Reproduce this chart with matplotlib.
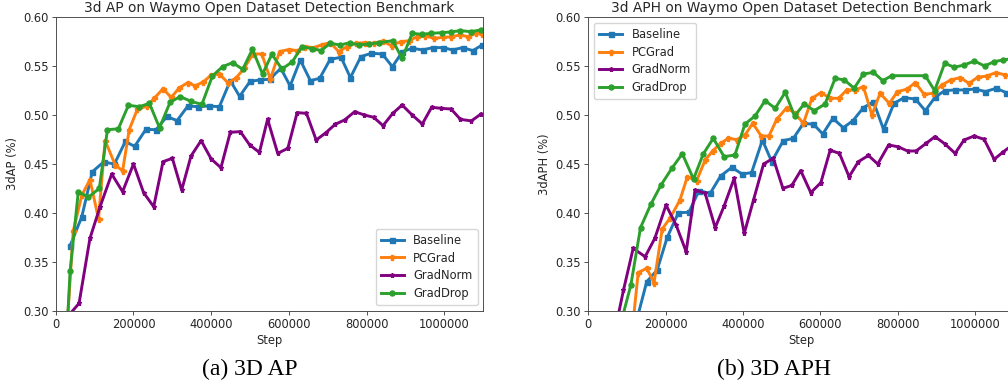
import matplotlib
matplotlib.use("Agg")
import matplotlib.pyplot as plt
from matplotlib.ticker import FormatStrFormatter

# ---------------- 3d AP (left) ----------------
ap_baseline_steps = [37000, 67000, 94000, 123000, 151000, 179000, 203000, 232000, 258000, 286000,
                     312000, 340000, 367000, 393000, 421000, 449000, 473000, 500000, 526000, 550000,
                     579000, 603000, 629000, 655000, 679000, 706000, 734000, 758000, 785000, 812000,
                     840000, 866000, 892000, 917000, 944000, 970000, 996000, 1021000, 1047000, 1073000,
                     1097000]
ap_baseline = [0.3665, 0.396, 0.442, 0.452, 0.450, 0.473, 0.468, 0.4855, 0.485, 0.4987,
               0.4943, 0.5093, 0.5086, 0.5093, 0.5086, 0.5352, 0.5192, 0.5345, 0.536, 0.5366,
               0.5478, 0.5298, 0.5564, 0.5352, 0.5376, 0.557, 0.5591, 0.5383, 0.5598, 0.5632,
               0.5625, 0.5495, 0.5649, 0.5683, 0.5666, 0.569, 0.569, 0.5666, 0.569, 0.5659,
               0.5717]

ap_pcgrad_steps = [31000, 45000, 67000, 88000, 110000, 127000, 153000, 172000, 189000, 210000,
                   234000, 253000, 276000, 297000, 318000, 339000, 359000, 380000, 400000, 421000,
                   443000, 464000, 485000, 507000, 530000, 552000, 576000, 599000, 621000, 642000,
                   664000, 685000, 706000, 728000, 749000, 773000, 795000, 818000, 841000, 864000,
                   887000, 908000, 930000, 951000, 973000, 996000, 1018000, 1040000, 1060000, 1082000,
                   1097000]
ap_pcgrad = [0.295, 0.3815, 0.418, 0.434, 0.394, 0.474, 0.449, 0.443, 0.485, 0.506,
             0.509, 0.517, 0.527, 0.518, 0.528, 0.533, 0.530, 0.534, 0.541, 0.542,
             0.533, 0.538, 0.548, 0.5625, 0.5625, 0.537, 0.565, 0.567, 0.566, 0.570,
             0.569, 0.572, 0.5741, 0.5649, 0.570, 0.5734, 0.5741, 0.5734, 0.5755, 0.571,
             0.5751, 0.576, 0.5802, 0.5809, 0.5785, 0.5795, 0.5802, 0.5819, 0.5802, 0.5836,
             0.5826]

ap_gradnorm_steps = [35000, 60000, 88000, 114000, 144000, 172000, 200000, 226000, 252000, 276000,
                     300000, 324000, 348000, 374000, 400000, 425000, 449000, 475000, 499000, 524000,
                     545000, 571000, 597000, 621000, 645000, 670000, 695000, 719000, 743000, 769000,
                     794000, 818000, 842000, 867000, 891000, 917000, 943000, 967000, 992000, 1017000,
                     1041000, 1069000, 1094000]
ap_gradnorm = [0.296, 0.3075, 0.374, 0.4063, 0.4397, 0.4217, 0.450, 0.4207, 0.4063, 0.4524,
               0.4558, 0.4234, 0.4582, 0.4739, 0.4551, 0.4462, 0.4824, 0.4831, 0.4694, 0.4619,
               0.4957, 0.4609, 0.466, 0.5025, 0.5018, 0.4745, 0.482, 0.4906, 0.495, 0.5035,
               0.5001, 0.4977, 0.4892, 0.5018, 0.5103, 0.5001, 0.4909, 0.508, 0.5069, 0.5062,
               0.4957, 0.494, 0.5011]

ap_graddrop_steps = [31000, 37000, 58000, 84000, 112000, 133000, 161000, 187000, 215000, 241000,
                     267000, 294000, 320000, 348000, 376000, 403000, 429000, 455000, 481000, 506000,
                     532000, 556000, 582000, 609000, 633000, 659000, 683000, 706000, 732000, 756000,
                     781000, 805000, 831000, 867000, 891000, 917000, 941000, 966000, 994000, 1017000,
                     1041000, 1067000, 1093000]
ap_graddrop = [0.295, 0.3405, 0.4217, 0.416, 0.425, 0.485, 0.486, 0.510, 0.5086, 0.512,
               0.487, 0.513, 0.519, 0.514, 0.511, 0.540, 0.5495, 0.5536, 0.5468, 0.5673,
               0.542, 0.5622, 0.547, 0.5547, 0.570, 0.568, 0.566, 0.5734, 0.5717, 0.574,
               0.5717, 0.5727, 0.574, 0.5761, 0.558, 0.5836, 0.5826, 0.5836, 0.5843, 0.585,
               0.5864, 0.5853, 0.587]

# ---------------- 3d APH (right) ----------------
aph_baseline_steps = [125000, 151000, 178000, 204000, 233000, 260000, 286000, 315000, 342000, 371000,
                      397000, 422000, 450000, 474000, 504000, 530000, 556000, 582000, 606000, 632000,
                      659000, 684000, 711000, 737000, 763000, 790000, 816000, 845000, 871000, 896000,
                      921000, 948000, 974000, 1000000, 1026000, 1054000, 1080000]
aph_baseline = [0.290, 0.3296, 0.3416, 0.375, 0.4002, 0.4006, 0.4227, 0.420, 0.4377, 0.4466,
                0.4398, 0.4411, 0.4745, 0.4524, 0.4739, 0.4762, 0.4916, 0.4906, 0.4807, 0.4967,
                0.4871, 0.4943, 0.5076, 0.5137, 0.4854, 0.512, 0.5178, 0.5165, 0.5045, 0.5182,
                0.525, 0.5257, 0.5257, 0.5267, 0.524, 0.5274, 0.523]

aph_pcgrad_steps = [115000, 129000, 151000, 170000, 191000, 211000, 237000, 256000, 280000, 302000,
                    322000, 342000, 362000, 384000, 405000, 425000, 447000, 467000, 487000, 513000,
                    534000, 556000, 578000, 601000, 625000, 647000, 668000, 690000, 711000, 733000,
                    754000, 778000, 799000, 823000, 845000, 868000, 890000, 914000, 937000, 961000,
                    984000, 1006000, 1030000, 1053000, 1078000]
aph_pcgrad = [0.285, 0.339, 0.3433, 0.3286, 0.3835, 0.3944, 0.4132, 0.437, 0.433, 0.454,
              0.4636, 0.471, 0.4762, 0.475, 0.4796, 0.4916, 0.4786, 0.4786, 0.4957, 0.5076,
              0.5018, 0.4916, 0.5172, 0.523, 0.5172, 0.5172, 0.5257, 0.5257, 0.5291, 0.5001,
              0.5223, 0.512, 0.524, 0.5264, 0.5332, 0.5212, 0.5223, 0.5308, 0.536, 0.5383,
              0.5325, 0.5386, 0.540, 0.5434, 0.541]

aph_gradnorm_steps = [73000, 91000, 116000, 147000, 172000, 201000, 227000, 253000, 276000, 302000,
                      328000, 351000, 377000, 403000, 427000, 453000, 478000, 503000, 526000, 549000,
                      575000, 601000, 625000, 649000, 674000, 698000, 724000, 748000, 776000, 800000,
                      825000, 847000, 873000, 896000, 922000, 948000, 971000, 997000, 1023000, 1049000,
                      1073000, 1095000]
aph_gradnorm = [0.287, 0.321, 0.3637, 0.3552, 0.374, 0.408, 0.3876, 0.3603, 0.4234, 0.420,
                0.3849, 0.407, 0.4353, 0.379, 0.4132, 0.450, 0.4558, 0.4251, 0.4281, 0.4432,
                0.4207, 0.4309, 0.464, 0.4609, 0.437, 0.4524, 0.4587, 0.450, 0.4694, 0.4677,
                0.4633, 0.4633, 0.4711, 0.478, 0.4704, 0.4609, 0.4745, 0.4786, 0.4752, 0.4548,
                0.4626, 0.469]

aph_graddrop_steps = [86000, 110000, 135000, 162000, 188000, 216000, 243000, 272000, 297000, 323000,
                      351000, 379000, 405000, 431000, 457000, 483000, 509000, 533000, 558000, 584000,
                      612000, 638000, 662000, 687000, 711000, 737000, 761000, 784000, 871000, 895000,
                      921000, 946000, 971000, 998000, 1024000, 1049000, 1073000, 1099000]
aph_graddrop = [0.29, 0.3262, 0.3849, 0.4091, 0.4285, 0.4456, 0.4605, 0.4346, 0.4602, 0.4762,
                0.4575, 0.4592, 0.4909, 0.4991, 0.5148, 0.5069, 0.5233, 0.4991, 0.5114, 0.5045,
                0.5114, 0.5376, 0.5359, 0.5274, 0.542, 0.5437, 0.5352, 0.5403, 0.5403, 0.525,
                0.553, 0.5489, 0.5512, 0.5553, 0.5502, 0.5547, 0.5564, 0.558]

methods = ["Baseline", "PCGrad", "GradNorm", "GradDrop"]
colors = ["#1f77b4", "#ff7f0e", "purple", "#2ca02c"]
markers = ["s", "P", "*", "o"]

FS = 8.3
TEXT = "#262626"


def draw_panel(ax, series, title, ylabel, legend_loc):
    for i in range(len(methods)):
        steps, vals = series[i]
        ax.plot(steps, vals, color=colors[i], marker=markers[i], markersize=3.6,
                linewidth=2.1, label=methods[i])
    ax.set_xlim(0, 1100000)
    ax.set_ylim(0.30, 0.60)
    ax.set_xticks([0, 200000, 400000, 600000, 800000, 1000000])
    ax.set_yticks([0.30, 0.35, 0.40, 0.45, 0.50, 0.55, 0.60])
    ax.xaxis.set_major_formatter(FormatStrFormatter("%d"))
    ax.yaxis.set_major_formatter(FormatStrFormatter("%.2f"))
    ax.tick_params(labelsize=FS, length=2.8, width=0.65, pad=2.5,
                   colors="#444444", labelcolor=TEXT)
    for s in ax.spines.values():
        s.set_linewidth(0.65)
        s.set_color("#444444")
    ax.set_title(title, fontsize=9.9, pad=4, color=TEXT)
    ax.set_xlabel("Step", fontsize=FS, labelpad=2, color=TEXT)
    ax.set_ylabel(ylabel, fontsize=FS, labelpad=3, color=TEXT)
    leg = ax.legend(loc=legend_loc, fontsize=FS, handlelength=2.0, borderpad=0.45,
                    labelspacing=0.4)
    for t in leg.get_texts():
        t.set_color(TEXT)


fig = plt.figure(figsize=(10.08, 3.87), dpi=100)

ax1 = fig.add_axes([0.0553, 0.1972, 0.4242, 0.7581])
draw_panel(ax1,
           [(ap_baseline_steps, ap_baseline), (ap_pcgrad_steps, ap_pcgrad),
            (ap_gradnorm_steps, ap_gradnorm), (ap_graddrop_steps, ap_graddrop)],
           "3d AP on Waymo Open Dataset Detection Benchmark", "3dAP (%)", "lower right")

ax2 = fig.add_axes([0.5836, 0.1972, 0.4223, 0.7581])
draw_panel(ax2,
           [(aph_baseline_steps, aph_baseline), (aph_pcgrad_steps, aph_pcgrad),
            (aph_gradnorm_steps, aph_gradnorm), (aph_graddrop_steps, aph_graddrop)],
           "3d APH on Waymo Open Dataset Detection Benchmark", "3dAPH (%)", "upper left")

fig.text(0.248, 0.03, "(a) 3D AP", family="Liberation Serif", fontsize=17, ha="center", va="baseline")
fig.text(0.768, 0.03, "(b) 3D APH", family="Liberation Serif", fontsize=17, ha="center", va="baseline")

fig.savefig("out.png", dpi=100)
